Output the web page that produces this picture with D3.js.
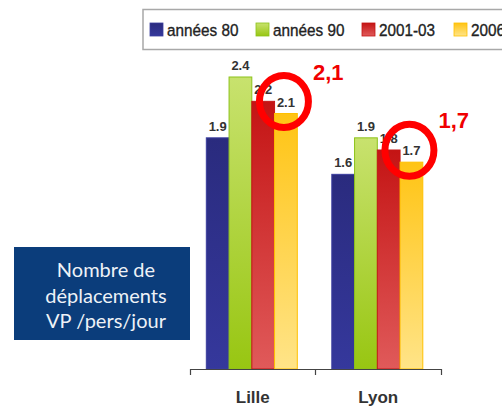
<!DOCTYPE html>
<html>
<head>
<meta charset="utf-8">
<script src="https://cdn.jsdelivr.net/npm/d3@7"></script>
<style>
  body { margin: 0; background: #fff; }
  svg { display: block; }
</style>
</head>
<body>
<div id="chart"></div>
<script>
// --- data ---
const cities = ["Lille", "Lyon"];
const periods = ["années 80", "années 90", "2001-03", "2006"];
const lilleValues = [1.9, 2.4, 2.2, 2.1];
const lyonValues = [1.6, 1.9, 1.8, 1.7];
const highlightLabels = ["2,1", "1,7"];   // red annotations on the 2006 bars
const boxLines = ["Nombre de", "déplacements", "VP /pers/jour"];

const seriesColors = [
  { top: "#2a2b7e", bottom: "#35389c", stroke: "#3b3e9e" },
  { top: "#c8e26e", bottom: "#98c612", stroke: "#8cc21a" },
  { top: "#c41414", bottom: "#e05a5a", stroke: "#c41616" },
  { top: "#ffc414", bottom: "#ffe488", stroke: "#ffc000" }
];

const rows = cities.map((c, i) => ({
  city: c,
  values: (i === 0 ? lilleValues : lyonValues).map((v, j) => ({ period: periods[j], idx: j, value: v }))
}));

// --------------------------
// DIMENSIONS
// --------------------------
const width = 502;
const height = 407;

const svg = d3.select("#chart")
  .append("svg")
  .attr("width", width)
  .attr("height", height);

const defs = svg.append("defs");
seriesColors.forEach((c, i) => {
  const g = defs.append("linearGradient")
    .attr("id", "grad" + i)
    .attr("x1", 0).attr("y1", 0).attr("x2", 0).attr("y2", 1);
  g.append("stop").attr("offset", "0%").attr("stop-color", c.top);
  g.append("stop").attr("offset", "100%").attr("stop-color", c.bottom);
});

// scales
const x0 = d3.scaleBand()
  .domain(cities)
  .range([190, 441])
  .paddingInner(0)
  .paddingOuter(0);

const bw = x0.bandwidth();
const x1 = d3.scaleBand()
  .domain(d3.range(periods.length))
  .range([bw * 0.13, bw * 0.855])
  .padding(0);

const y = d3.scaleLinear()
  .domain([0, 3])
  .range([369, 4]);

// --------------------------
// BARS
// --------------------------
const groups = svg.append("g").attr("class", "bars")
  .selectAll("g")
  .data(rows)
  .join("g")
  .attr("transform", d => `translate(${x0(d.city)},0)`);

groups.selectAll("rect")
  .data(d => d.values)
  .join("rect")
  .attr("x", d => x1(d.idx))
  .attr("y", d => y(d.value))
  .attr("width", x1.bandwidth())
  .attr("height", d => y(0) - y(d.value))
  .attr("fill", d => `url(#grad${d.idx})`)
  .attr("stroke", d => seriesColors[d.idx].stroke)
  .attr("stroke-width", 1);

// value labels
groups.selectAll("text")
  .data(d => d.values)
  .join("text")
  .attr("x", d => x1(d.idx) + x1.bandwidth() / 2)
  .attr("y", d => y(d.value) - 7)
  .attr("text-anchor", "middle")
  .style("font-family", "Liberation Sans, Arial, sans-serif")
  .style("font-size", "13px")
  .style("font-weight", "bold")
  .style("fill", "#333")
  .style("paint-order", "stroke")
  .style("stroke", "#fff")
  .style("stroke-width", 1.5)
  .text(d => d.value.toFixed(1));

// --------------------------
// AXIS
// --------------------------
const xAxis = svg.append("g")
  .attr("transform", `translate(0, ${y(0)})`)
  .call(d3.axisBottom(x0).tickSize(0).tickSizeOuter(6).tickPadding(22));

xAxis.select(".domain").attr("stroke", "#444").attr("stroke-width", 1.2);
xAxis.selectAll(".tick text")
  .style("font-family", "Liberation Sans, Arial, sans-serif")
  .style("font-size", "17px")
  .style("font-weight", "bold")
  .style("fill", "#333");

// inner boundary tick between the two cities
xAxis.append("line")
  .attr("x1", x0("Lyon")).attr("x2", x0("Lyon"))
  .attr("y1", 0).attr("y2", 6)
  .attr("stroke", "#444").attr("stroke-width", 1.2);

// --------------------------
// LEGEND
// --------------------------
const legend = svg.append("g").attr("class", "legend");
legend.append("rect")
  .attr("x", 143).attr("y", 9.5)
  .attr("width", 380).attr("height", 40)
  .attr("fill", "#fff")
  .attr("stroke", "#a8a8a8")
  .attr("stroke-width", 1.5);

const legendX = [150, 256, 362, 454];
periods.forEach((p, i) => {
  const item = legend.append("g").attr("transform", `translate(${legendX[i]}, 23)`);
  item.append("rect")
    .attr("width", 13).attr("height", 13)
    .attr("fill", `url(#grad${i})`)
    .attr("stroke", seriesColors[i].stroke)
    .attr("stroke-width", 0.8);
  item.append("text")
    .attr("transform", "translate(17, 13) scale(0.9, 1)")
    .style("font-family", "Liberation Sans, Arial, sans-serif")
    .style("font-size", "17px")
    .style("fill", "#222")
    .style("stroke", "#222")
    .style("stroke-width", 0.35)
    .text(p);
});

// --------------------------
// ANNOTATIONS
// --------------------------
const annotated = rows.map((r, i) => {
  const d = r.values[3];
  return {
    cx: x0(r.city) + x1(3) + x1.bandwidth() / 2 - 2,
    cy: y(d.value) - 12,
    label: highlightLabels[i]
  };
});

svg.append("g").selectAll("ellipse")
  .data(annotated)
  .join("ellipse")
  .attr("cx", d => d.cx)
  .attr("cy", d => d.cy)
  .attr("rx", 24.5)
  .attr("ry", 26)
  .attr("fill", "none")
  .attr("stroke", "#ff0000")
  .attr("stroke-width", 7);

svg.append("g").selectAll("text")
  .data(annotated)
  .join("text")
  .attr("x", d => d.cx + 29)
  .attr("y", d => d.cy - 22)
  .style("font-family", "Liberation Sans, Arial, sans-serif")
  .style("font-size", "22px")
  .style("font-weight", "bold")
  .style("fill", "#f00000")
  .text(d => d.label);

// --------------------------
// TEXT BOX
// --------------------------
const box = svg.append("g");
box.append("rect")
  .attr("x", 14).attr("y", 247)
  .attr("width", 176).attr("height", 93)
  .attr("fill", "#0b3d7b");

box.selectAll("text")
  .data(boxLines)
  .join("text")
  .attr("x", 106)
  .attr("y", (d, i) => 277 + i * 25.5)
  .attr("text-anchor", "middle")
  .style("font-family", "Lato, 'Open Sans', sans-serif")
  .style("font-size", "20px")
  .style("fill", "#eef2f7")
  .text(d => d);
</script>
</body>
</html>
